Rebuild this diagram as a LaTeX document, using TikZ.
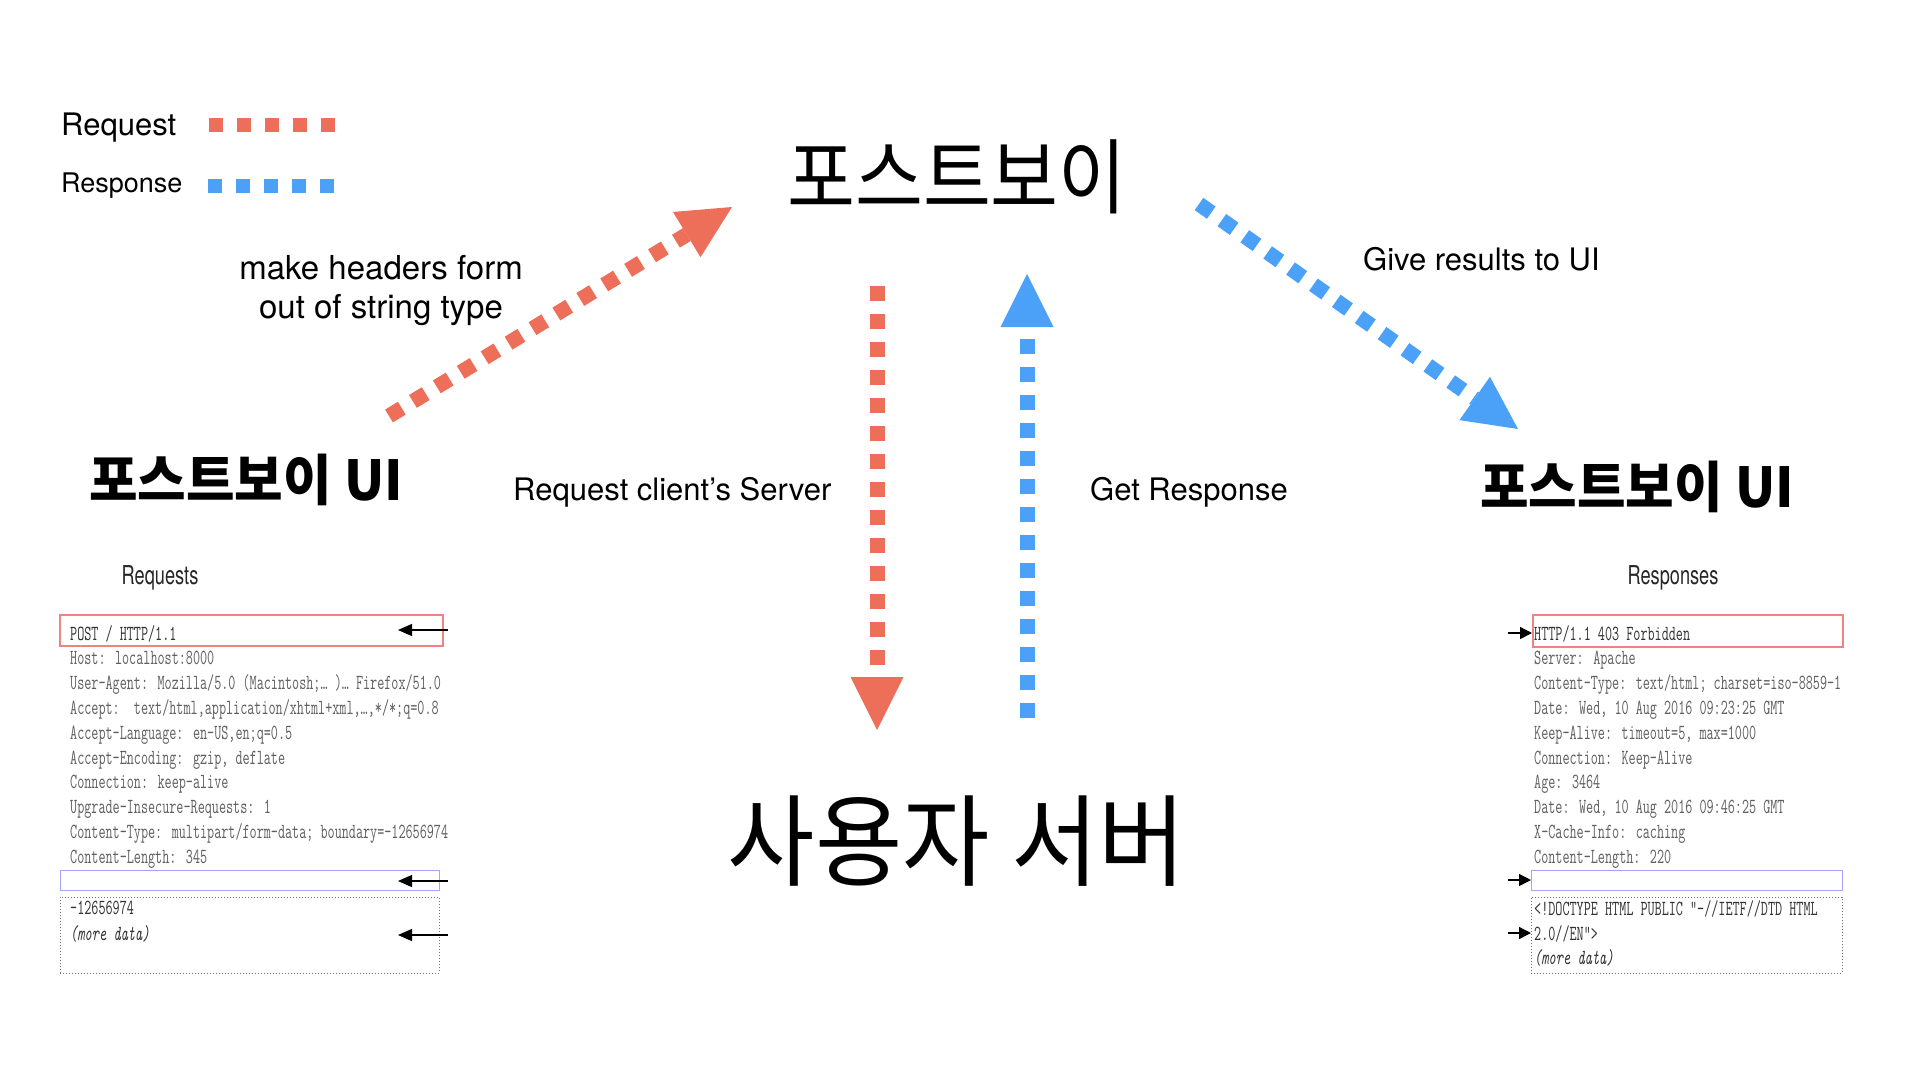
\documentclass[tikz,border=0pt]{standalone}
\usepackage{fontspec}
\usepackage{graphicx}
\setmainfont{TeX Gyre Heros}
\newfontfamily\kr{Noto Sans CJK KR}
\usetikzlibrary{arrows.meta}
\definecolor{reqred}{RGB}{237,111,89}
\definecolor{resblue}{RGB}{74,161,247}
\definecolor{boxred}{RGB}{240,130,130}
\definecolor{boxblue}{RGB}{165,165,255}
\definecolor{hdrdark}{RGB}{50,50,50}
\definecolor{hdrgray}{RGB}{95,95,95}
\newcommand{\hm}[1]{\scalebox{0.64}[1]{#1}}
\newcommand{\nar}[1]{\scalebox{0.7}[1]{#1}}
\tikzset{
  bigreq/.style={draw=reqred, line width=15pt, dash pattern=on 15pt off 13pt,
    -{Triangle[length=53pt,width=53pt,line width=0pt,fill=reqred]}},
  bigres/.style={draw=resblue, line width=15pt, dash pattern=on 15pt off 13pt,
    -{Triangle[length=53pt,width=53pt,line width=0pt,fill=resblue]}},
  legreq/.style={draw=reqred, line width=14pt, dash pattern=on 14pt off 14pt},
  legres/.style={draw=resblue, line width=14pt, dash pattern=on 14pt off 14pt},
  lbl/.style={inner sep=0pt, text=black, font=\fontsize{31}{39}\selectfont},
  hdr/.style={inner sep=0pt, anchor=base west, text=hdrgray, font=\ttfamily\fontsize{21.5}{24}\selectfont},
  hdrd/.style={hdr, text=hdrdark},
  redbox/.style={draw=boxred, line width=1.5pt, inner sep=0pt, anchor=north west},
  bluebox/.style={draw=boxblue, line width=1.2pt, inner sep=0pt, anchor=north west},
  dotbox/.style={draw=black!55, line width=0.9pt, dash pattern=on 1pt off 2pt, inner sep=0pt, anchor=north west},
  sarrow/.style={draw=black, line width=1.3pt, -{Triangle[length=14pt,width=12pt]}},
  title/.style={inner sep=0pt, text=black},
}
\begin{document}
\begin{tikzpicture}[x=1pt,y=-1pt]
\fill[white] (0,0) rectangle (1920,1080);
\useasboundingbox (0,0) rectangle (1920,1080);

% legend
\node[lbl, anchor=base west, font=\fontsize{31}{36}\selectfont] (lreq) at (61,135) {Request};
\node[lbl, anchor=base west, font=\fontsize{27}{31}\selectfont] (lres) at (61,192) {Response};
\coordinate (lq1) at (209,125); \coordinate (lq2) at (335,125);
\coordinate (ls1) at (208,186); \coordinate (ls2) at (334,186);
\draw[legreq] (lq1) -- (lq2);
\draw[legres] (ls1) -- (ls2);

% titles
\node[title, font=\kr\fontsize{82}{94}\selectfont] (pb) at (957,177) {\scalebox{0.9}[1]{포스트보이}};
\node[title, font=\kr\fontsize{100}{114}\selectfont] (srv) at (957,841) {\scalebox{0.95}[1]{사용자 서버}};
\node[title, font=\kr\bfseries\fontsize{55}{60}\selectfont] (uiL) at (246,480) {\scalebox{0.96}[1]{포스트보이 UI}};
\node[title, font=\kr\bfseries\fontsize{55}{60}\selectfont] (uiR) at (1637,487) {\scalebox{0.96}[1]{포스트보이 UI}};

% labels
\node[lbl, align=center, font=\fontsize{33}{39}\selectfont] (lmake) at (381,291) {make headers form\\out of string type};
\node[lbl, anchor=base west] (lrcs) at (513,500) {Request client’s Server};
\node[lbl, anchor=base west] (lget) at (1090,500) {Get Response};
\node[lbl, anchor=base west] (lgive) at (1363,270) {Give results to UI};

% big arrows
\coordinate (rd1) at (389,416); \coordinate (rd2) at (732,207);
\coordinate (rv1) at (877,286); \coordinate (rv2) at (877,730);
\coordinate (bv1) at (1027,718); \coordinate (bv2) at (1027,274);
\coordinate (bd1) at (1199,204); \coordinate (bd2) at (1518,429);
\draw[bigreq] (rd1) -- (rd2);
\draw[bigreq] (rv1) -- (rv2);
\draw[bigres] (bv1) -- (bv2);
\draw[bigres] (bd1) -- (bd2);

% panel headings
\node[inner sep=0pt, text=black!85, font=\fontsize{26}{30}\selectfont] (reqh) at (160,578) {\nar{Requests}};
\node[inner sep=0pt, text=black!85, font=\fontsize{26}{30}\selectfont] (resh) at (1673,578) {\nar{Responses}};

% left panel
\node[redbox, minimum width=383pt, minimum height=31pt] (lb1) at (59,614) {};
\node[bluebox, minimum width=379pt, minimum height=20pt] (lb2) at (60,870) {};
\node[dotbox, minimum width=379pt, minimum height=76pt] (lb3) at (60,897) {};
\node[hdrd] (q0) at (70,640) {\hm{POST / HTTP/1.1}};
\node[hdr] (q1) at (70,664.8) {\hm{Host: localhost:8000}};
\node[hdr] (q2) at (70,689.6) {\hm{User-Agent: Mozilla/5.0 (Macintosh;… )… Firefox/51.0}};
\node[hdr] (q3) at (70,714.4) {\hm{Accept:\ \ text/html,application/xhtml+xml,…,*/*;q=0.8}};
\node[hdr] (q4) at (70,739.2) {\hm{Accept-Language: en-US,en;q=0.5}};
\node[hdr] (q5) at (70,764) {\hm{Accept-Encoding: gzip, deflate}};
\node[hdr] (q6) at (70,788.8) {\hm{Connection: keep-alive}};
\node[hdr] (q7) at (70,813.6) {\hm{Upgrade-Insecure-Requests: 1}};
\node[hdr] (q8) at (70,838.4) {\hm{Content-Type: multipart/form-data; boundary=-12656974}};
\node[hdr] (q9) at (70,863.2) {\hm{Content-Length: 345}};
\node[hdrd] (q10) at (70,914) {\hm{-12656974}};
\node[hdrd] (q11) at (70,940) {\hm{\itshape (more data)}};
\coordinate (la1s) at (448,630); \coordinate (la1e) at (398,630);
\coordinate (la2s) at (448,881); \coordinate (la2e) at (398,881);
\coordinate (la3s) at (448,935); \coordinate (la3e) at (398,935);
\draw[sarrow] (la1s) -- (la1e);
\draw[sarrow] (la2s) -- (la2e);
\draw[sarrow] (la3s) -- (la3e);

% right panel
\node[redbox, minimum width=310pt, minimum height=32pt] (rb1) at (1532,614) {};
\node[bluebox, minimum width=311pt, minimum height=20pt] (rb2) at (1531,870) {};
\node[dotbox, minimum width=311pt, minimum height=76pt] (rb3) at (1531,897) {};
\node[hdrd] (s0) at (1534,640) {\hm{HTTP/1.1 403 Forbidden}};
\node[hdr] (s1) at (1534,664.8) {\hm{Server: Apache}};
\node[hdr] (s2) at (1534,689.6) {\hm{Content-Type: text/html; charset=iso-8859-1}};
\node[hdr] (s3) at (1534,714.4) {\hm{Date: Wed, 10 Aug 2016 09:23:25 GMT}};
\node[hdr] (s4) at (1534,739.2) {\hm{Keep-Alive: timeout=5, max=1000}};
\node[hdr] (s5) at (1534,764) {\hm{Connection: Keep-Alive}};
\node[hdr] (s6) at (1534,788.8) {\hm{Age: 3464}};
\node[hdr] (s7) at (1534,813.6) {\hm{Date: Wed, 10 Aug 2016 09:46:25 GMT}};
\node[hdr] (s8) at (1534,838.4) {\hm{X-Cache-Info: caching}};
\node[hdr] (s9) at (1534,863.2) {\hm{Content-Length: 220}};
\node[hdrd] (s10) at (1534,915) {\hm{<!DOCTYPE HTML PUBLIC "-//IETF//DTD HTML}};
\node[hdrd] (s11) at (1534,940) {\hm{2.0//EN">}};
\node[hdrd] (s12) at (1534,964) {\hm{\itshape (more data)}};
\coordinate (ra1s) at (1508,633); \coordinate (ra1e) at (1532,633);
\coordinate (ra2s) at (1508,880); \coordinate (ra2e) at (1531,880);
\coordinate (ra3s) at (1508,933); \coordinate (ra3e) at (1531,933);
\draw[sarrow, -{Triangle[length=12pt,width=12pt]}] (ra1s) -- (ra1e);
\draw[sarrow, -{Triangle[length=12pt,width=12pt]}] (ra2s) -- (ra2e);
\draw[sarrow, -{Triangle[length=12pt,width=12pt]}] (ra3s) -- (ra3e);
\end{tikzpicture}
\end{document}
